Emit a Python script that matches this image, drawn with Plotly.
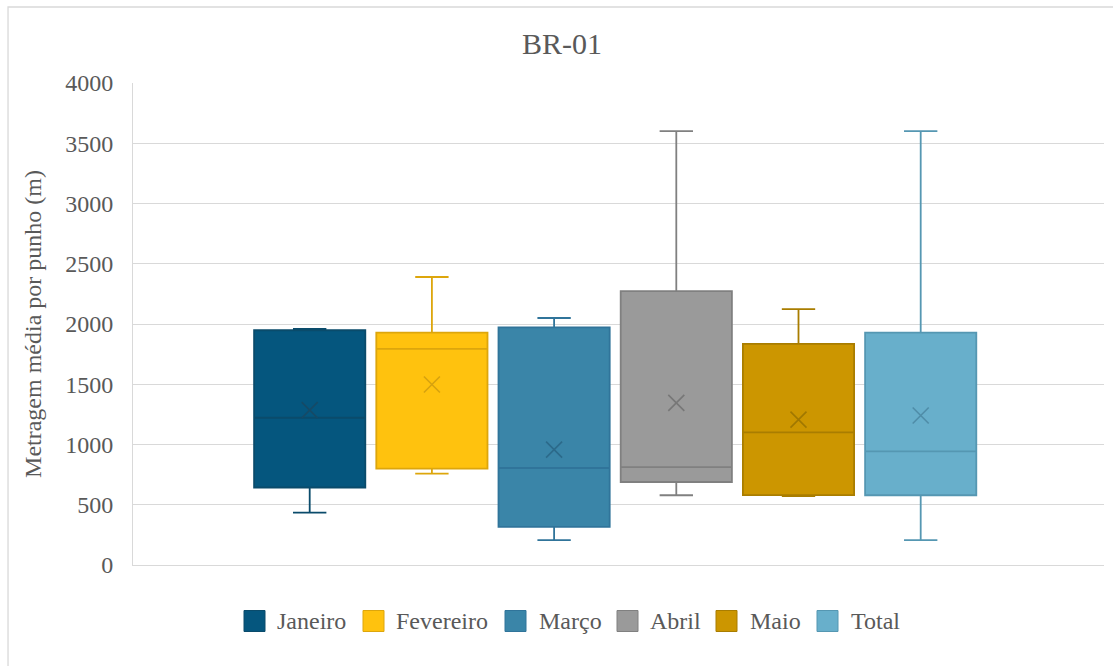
import plotly.graph_objects as go

# Monthly distribution of average length per bundle (BR-01)
months = ["Janeiro", "Fevereiro", "Março", "Abril", "Maio", "Total"]
lower = [435, 759, 207, 579, 571, 207]
q1 = [643, 800, 317, 689, 580, 579]
median = [1222, 1793, 805, 813, 1101, 943]
q3 = [1948, 1928, 1972, 2273, 1835, 1928]
upper = [1960, 2390, 2050, 3600, 2124, 3600]
mean = [1285, 1498, 957, 1346, 1206, 1241]

fill_colors = ["#05567E", "#FFC20E", "#3A85A8", "#9A9A9A", "#CC9600", "#68AFCB"]
line_colors = ["#0A4B6B", "#DDA60C", "#30749A", "#808080", "#A97D00", "#5597B2"]
mean_colors = ["#164A66", "#D7A20F", "#2C6A8A", "#777777", "#A07800", "#4F8DA8"]

FONT = "Liberation Serif"
GREY = "#595959"

# plot-area geometry in pixels (used to lay out the legend row)
W, H = 1113, 666
ML, MR, MT, MB = 133, 9, 83, 101
PW, PH = W - ML - MR, H - MT - MB


def px_to_paper_x(px):
    return (px - ML) / PW


def px_to_paper_y(py):
    return (H - MB - py) / PH


fig = go.Figure()

for i, name in enumerate(months):
    fig.add_trace(go.Box(
        x=[i], q1=[q1[i]], median=[median[i]], q3=[q3[i]],
        lowerfence=[lower[i]], upperfence=[upper[i]],
        width=0.91, whiskerwidth=0.3,
        fillcolor=fill_colors[i],
        line=dict(color=line_colors[i], width=1.8),
        name=name, showlegend=False, hoverinfo="skip",
    ))
    fig.add_trace(go.Scatter(
        x=[i], y=[mean[i]], mode="markers",
        marker=dict(symbol="x-thin", size=16,
                    line=dict(color=mean_colors[i], width=1.6)),
        showlegend=False, hoverinfo="skip",
    ))

# legend row: coloured squares with labels
legend_square_left = [244, 363, 505, 617, 716, 817]
legend_text_left = [275, 394, 537, 648, 748, 849]
legend_cy = 621
sq = 21
shapes = [dict(type="rect", xref="paper", yref="paper",
               x0=-0.1287, x1=1.02, y0=-0.24, y1=1.1577,
               line=dict(color="#d9d9d9", width=1.3), layer="below")]
annotations = []
for i, name in enumerate(months):
    shapes.append(dict(
        type="rect", xref="paper", yref="paper",
        x0=px_to_paper_x(legend_square_left[i]),
        x1=px_to_paper_x(legend_square_left[i] + sq),
        y0=px_to_paper_y(legend_cy + sq / 2),
        y1=px_to_paper_y(legend_cy - sq / 2),
        fillcolor=fill_colors[i],
        line=dict(color=line_colors[i], width=1),
    ))
    annotations.append(dict(
        text=name, xref="paper", yref="paper",
        x=px_to_paper_x(legend_text_left[i]), y=px_to_paper_y(legend_cy),
        xanchor="left", yanchor="middle", showarrow=False,
        font=dict(family=FONT, size=24, color=GREY),
    ))

fig.update_layout(
    width=W, height=H,
    margin=dict(l=ML, r=MR, t=MT, b=MB),
    paper_bgcolor="white", plot_bgcolor="white",
    font=dict(family=FONT, color=GREY, size=24),
    title=dict(text="BR-01", x=0.505, xref="container", xanchor="center",
               y=0.935, yref="container", yanchor="middle",
               font=dict(family=FONT, size=30, color=GREY)),
    showlegend=False,
    xaxis=dict(range=[-1.446, 6.50], showticklabels=False, showgrid=False,
               zeroline=False, showline=True, linecolor="#d9d9d9", linewidth=1,
               fixedrange=True),
    yaxis=dict(range=[0, 4000], dtick=500, showgrid=True, gridcolor="#d9d9d9",
               gridwidth=1.3, zeroline=False, showline=True,
               linecolor="#d9d9d9", linewidth=1,
               ticks="", ticklabelstandoff=14,
               tickfont=dict(family=FONT, size=24, color=GREY),
               title=dict(text="Metragem média por punho (m)", standoff=16,
                          font=dict(family=FONT, size=24, color=GREY)),
               fixedrange=True),
    shapes=shapes,
    annotations=annotations,
)

fig.write_html("out.html", config={"displayModeBar": False})
